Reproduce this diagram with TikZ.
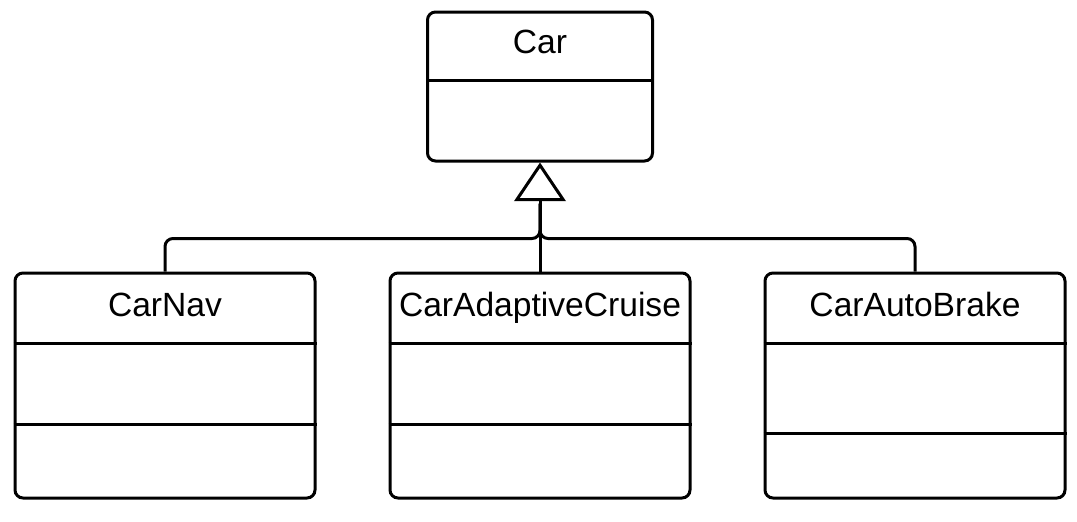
\documentclass[tikz,border=0pt]{standalone}
\usepackage{fontspec}
\setmainfont{Liberation Sans}
\usetikzlibrary{arrows.meta,calc}
\begin{document}
\begin{tikzpicture}[x=0.75pt,y=-0.75pt,
  line width=2.25pt,
  cls/.style={draw, rounded corners=6pt, inner sep=0pt, line width=2.25pt},
  big/.style={cls, minimum width=225pt, minimum height=168.75pt},
  ttl/.style={font=\fontsize{25.2}{29}\selectfont, inner sep=0pt, anchor=base},
  conn/.style={line width=2.25pt, rounded corners=6pt},
  gen/.style={-{Triangle[open,length=29pt,width=38.5pt]}, line width=2.25pt, line join=miter}]
\useasboundingbox (0,0) rectangle (1077,521);

% classes
\node[cls, minimum width=168.75pt, minimum height=111.75pt] (car) at (540,86.5) {};
\node[big] (nav) at (165,385.5) {};
\node[big] (cruise) at (540,385.5) {};
\node[big] (brake) at (915,385.5) {};

% titles
\node[ttl] (carT) at ($(car.north)+(0,43)$) {Car};
\node[ttl] (navT) at ($(nav.north)+(0,45)$) {CarNav};
\node[ttl] (cruiseT) at ($(cruise.north)+(0,45)$) {CarAdaptiveCruise};
\node[ttl] (brakeT) at ($(brake.north)+(0,45)$) {CarAutoBrake};

% compartments
\draw ($(car.north west)+(0,70)$) -- ($(car.north east)+(0,70)$);
\foreach \n in {nav,cruise}{
  \draw ($(\n.north west)+(0,72)$) -- ($(\n.north east)+(0,72)$);
  \draw ($(\n.north west)+(0,153)$) -- ($(\n.north east)+(0,153)$);
}
\draw ($(brake.north west)+(0,72)$) -- ($(brake.north east)+(0,72)$);
\draw ($(brake.north west)+(0,162)$) -- ($(brake.north east)+(0,162)$);

% generalization
\coordinate (tb) at ($(car.south)+(0,41)$);
\coordinate (j) at ($(car.south)+(0,76)$);
\draw[conn] (nav.north) |- (j) -- (tb);
\draw[conn] (brake.north) |- (j) -- (tb);
\draw[gen] (cruise.north) -- (car.south);
\end{tikzpicture}
\end{document}
